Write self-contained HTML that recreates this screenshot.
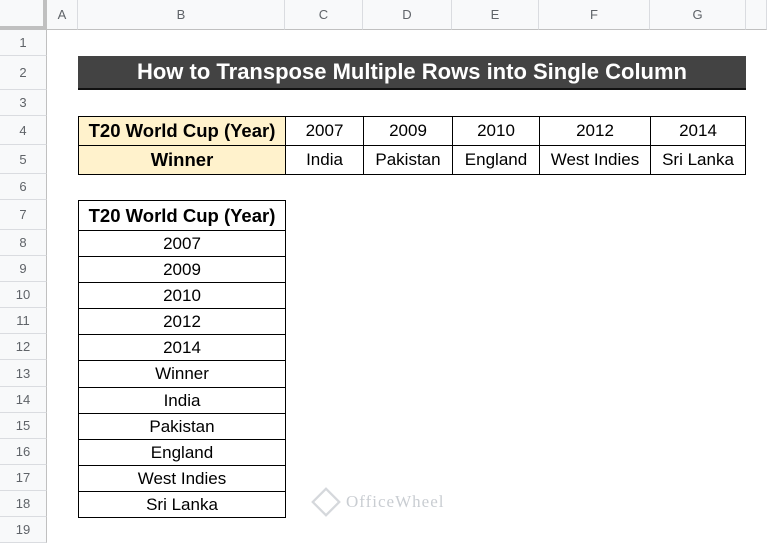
<!DOCTYPE html>
<html><head><style>
body{margin:0;width:767px;height:540px;overflow:hidden;background:#fff;font-family:"Liberation Sans",Arial,sans-serif;position:relative}
.a{position:absolute;box-sizing:border-box}
.ch{top:0;height:30px;background:#f8f9fa;border-right:1px solid #dadce0;border-bottom:1px solid #c0c0c0;color:#5f6368;font-size:13px;text-align:center;line-height:30px}
.rh{left:0;width:47px;background:#f8f9fa;border-bottom:1px solid #dadce0;border-right:1px solid #c0c0c0;color:#5f6368;font-size:13px;text-align:center;display:flex;align-items:center;justify-content:center}
.c{border:1px solid #000;display:flex;align-items:center;justify-content:center;font-size:17px;color:#000}
.b{font-weight:bold;font-size:18.5px}
</style></head><body>
<div class="a ch" style="left:0;width:47px;border-right:4px solid #c0c0c0;border-bottom:4px solid #c0c0c0"></div>
<div class="a ch" style="left:47px;width:31px">A</div>
<div class="a ch" style="left:78px;width:207px">B</div>
<div class="a ch" style="left:285px;width:78px">C</div>
<div class="a ch" style="left:363px;width:89px">D</div>
<div class="a ch" style="left:452px;width:87px">E</div>
<div class="a ch" style="left:539px;width:111px">F</div>
<div class="a ch" style="left:650px;width:96px">G</div>
<div class="a ch" style="left:746px;width:21px"></div>

<div class="a rh" style="top:30px;height:26px">1</div>
<div class="a rh" style="top:56px;height:34px">2</div>
<div class="a rh" style="top:90px;height:26px">3</div>
<div class="a rh" style="top:116px;height:29px">4</div>
<div class="a rh" style="top:145px;height:29px">5</div>
<div class="a rh" style="top:174px;height:26px">6</div>
<div class="a rh" style="top:200px;height:30px">7</div>
<div class="a rh" style="top:230px;height:26px">8</div>
<div class="a rh" style="top:256px;height:26px">9</div>
<div class="a rh" style="top:282px;height:26px">10</div>
<div class="a rh" style="top:308px;height:26px">11</div>
<div class="a rh" style="top:334px;height:26px">12</div>
<div class="a rh" style="top:360px;height:27px">13</div>
<div class="a rh" style="top:387px;height:26px">14</div>
<div class="a rh" style="top:413px;height:26px">15</div>
<div class="a rh" style="top:439px;height:26px">16</div>
<div class="a rh" style="top:465px;height:26px">17</div>
<div class="a rh" style="top:491px;height:26px">18</div>
<div class="a rh" style="top:517px;height:26px">19</div>

<div class="a" style="left:78px;top:56px;width:668px;height:34px;background:#434343;border-bottom:2px solid #111;color:#fff;font-weight:bold;font-size:22px;display:flex;align-items:center;justify-content:center">How to Transpose Multiple Rows into Single Column</div>

<div class="a c b" style="left:78px;top:116px;width:208px;height:30px;background:#fff2cc">T20 World Cup (Year)</div>
<div class="a c b" style="left:78px;top:145px;width:208px;height:30px;background:#fff2cc">Winner</div>
<div class="a c" style="left:285px;top:116px;width:79px;height:30px">2007</div>
<div class="a c" style="left:363px;top:116px;width:90px;height:30px">2009</div>
<div class="a c" style="left:452px;top:116px;width:88px;height:30px">2010</div>
<div class="a c" style="left:539px;top:116px;width:112px;height:30px">2012</div>
<div class="a c" style="left:650px;top:116px;width:96px;height:30px">2014</div>
<div class="a c" style="left:285px;top:145px;width:79px;height:30px">India</div>
<div class="a c" style="left:363px;top:145px;width:90px;height:30px">Pakistan</div>
<div class="a c" style="left:452px;top:145px;width:88px;height:30px">England</div>
<div class="a c" style="left:539px;top:145px;width:112px;height:30px">West Indies</div>
<div class="a c" style="left:650px;top:145px;width:96px;height:30px">Sri Lanka</div>

<div class="a c b" style="left:78px;top:200px;width:208px;height:31px">T20 World Cup (Year)</div>
<div class="a c" style="left:78px;top:230px;width:208px;height:27px">2007</div>
<div class="a c" style="left:78px;top:256px;width:208px;height:27px">2009</div>
<div class="a c" style="left:78px;top:282px;width:208px;height:27px">2010</div>
<div class="a c" style="left:78px;top:308px;width:208px;height:27px">2012</div>
<div class="a c" style="left:78px;top:334px;width:208px;height:27px">2014</div>
<div class="a c" style="left:78px;top:360px;width:208px;height:28px">Winner</div>
<div class="a c" style="left:78px;top:387px;width:208px;height:27px">India</div>
<div class="a c" style="left:78px;top:413px;width:208px;height:27px">Pakistan</div>
<div class="a c" style="left:78px;top:439px;width:208px;height:27px">England</div>
<div class="a c" style="left:78px;top:465px;width:208px;height:27px">West Indies</div>
<div class="a c" style="left:78px;top:491px;width:208px;height:27px">Sri Lanka</div>

<div class="a" style="left:312px;top:488px;width:28px;height:28px;border:3px solid #d5d8dc;transform:rotate(45deg) scale(.75)"></div>
<div class="a" style="left:346px;top:492px;font-family:'Liberation Serif',serif;font-size:17px;color:#c9cdd2;letter-spacing:1px">OfficeWheel</div>
</body></html>
